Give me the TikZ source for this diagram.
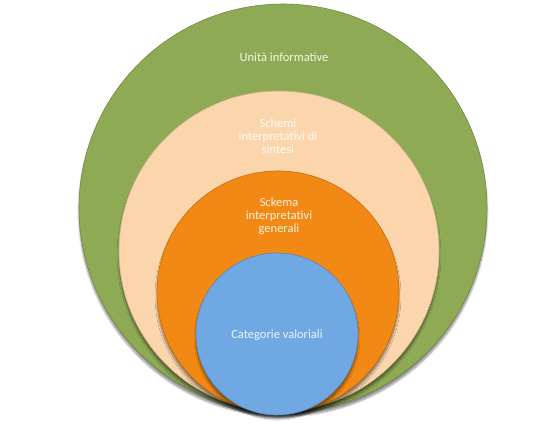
\documentclass[tikz,border=0pt]{standalone}
\usepackage{fontspec}
\setmainfont{Carlito}
\usepackage{tikz}
\usetikzlibrary{positioning, shapes.geometric, shadows.blur}
\definecolor{ringGreen}{RGB}{143,170,84}
\definecolor{ringPeach}{RGB}{251,213,172}
\definecolor{ringOrange}{RGB}{242,137,20}
\definecolor{ringBlue}{RGB}{111,168,226}
\tikzset{
    ring/.style={circle, inner sep=0pt, minimum size=#1, line width=0.6pt,
      blur shadow={shadow xshift=0pt, shadow yshift=-4pt, shadow blur steps=8, shadow opacity=45}},
    ringtext/.style={align=center, inner sep=0pt, text=white, text opacity=0.88,
      font=\fontsize{12.5}{13}\selectfont},
}

\begin{document}
\begin{tikzpicture}[x=1pt, y=1pt]
    \useasboundingbox (0,0) rectangle (555,-429);

    \node[ring=408pt, fill=ringGreen, draw=ringGreen!80!black] (c0) at (283,-208) {};
    \node[ring=320pt, fill=ringPeach, draw=ringPeach!85!black] (c1) at (279,-251) {};
    \node[ring=242pt, fill=ringOrange, draw=ringOrange!80!black] (c2) at (278,-292) {};
    \node[ring=162pt, fill=ringBlue, draw=ringBlue!80!black] (c3) at (277,-334) {};

    \node[ringtext] (l0) at (284,-57) {Unità informative};
    \node[ringtext] (l1) at (278,-136) {Schemi\\interpretativi di\\sintesi};
    \node[ringtext] (l2) at (279,-216) {Sckema\\interpretativi\\generali};
    \node[ringtext] (l3) at (277,-335) {Categorie valoriali};

  \end{tikzpicture}
\end{document}
